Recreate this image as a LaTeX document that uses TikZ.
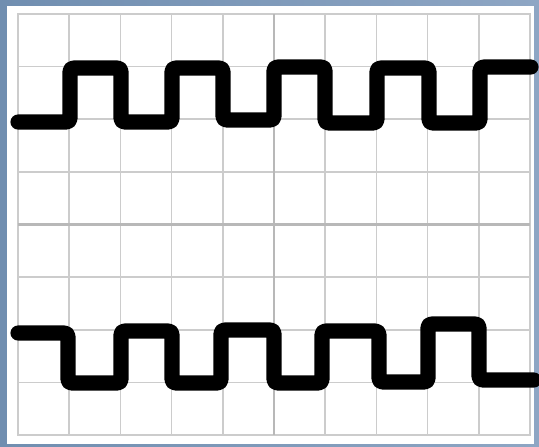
\documentclass[tikz,border=0pt]{standalone}
\usepackage{tikz}

\definecolor{framedark}{RGB}{112,142,176}
\definecolor{framelight}{RGB}{142,166,196}
\definecolor{gridgray}{RGB}{204,204,204}
\definecolor{axisgray}{RGB}{184,184,184}

\begin{document}
\begin{tikzpicture}[
    x=0.02cm, y=-0.02cm,
    gridline/.style={draw=gridgray, line width=0.9pt},
    axisline/.style={draw=axisgray, line width=1.3pt},
    wave/.style={draw=black, line width=8.6pt, line cap=round, line join=round, rounded corners=2pt}
]

\useasboundingbox (0,0) rectangle (539,447);

% Frame
\shade[left color=framedark, right color=framelight] (0,0) rectangle (539,447);
\fill[white] (7,6) rectangle (534,444);

% Grid
\foreach \i in {0,...,10} {
    \draw[gridline] ({18+51.2*\i},14) -- ({18+51.2*\i},435);
}
\foreach \j in {0,...,8} {
    \draw[gridline] (18,{14+52.625*\j}) -- (530,{14+52.625*\j});
}
\draw[gridline, line width=1.4pt] (18,14) rectangle (530,435);
\draw[axisline] (274,14) -- (274,435);
\draw[axisline] (18,224.5) -- (530,224.5);

% Upper wave
\draw[wave] (18,122) -- (70,122) -- (70,68) -- (121,68) -- (121,122)
    -- (172,122) -- (172,68) -- (223,68) -- (223,120) -- (274,120)
    -- (274,67) -- (325,67) -- (325,123) -- (377,123) -- (377,68)
    -- (429,68) -- (429,123) -- (480,123) -- (480,67) -- (531,67);

% Lower wave
\draw[wave] (18,333) -- (68,333) -- (68,383) -- (121,383) -- (121,331)
    -- (172,331) -- (172,383) -- (221,383) -- (221,330) -- (274,330)
    -- (274,383) -- (322,383) -- (322,331) -- (379,331) -- (379,382)
    -- (428,382) -- (428,324) -- (479,324) -- (479,380) -- (534,380);

\end{tikzpicture}
\end{document}
